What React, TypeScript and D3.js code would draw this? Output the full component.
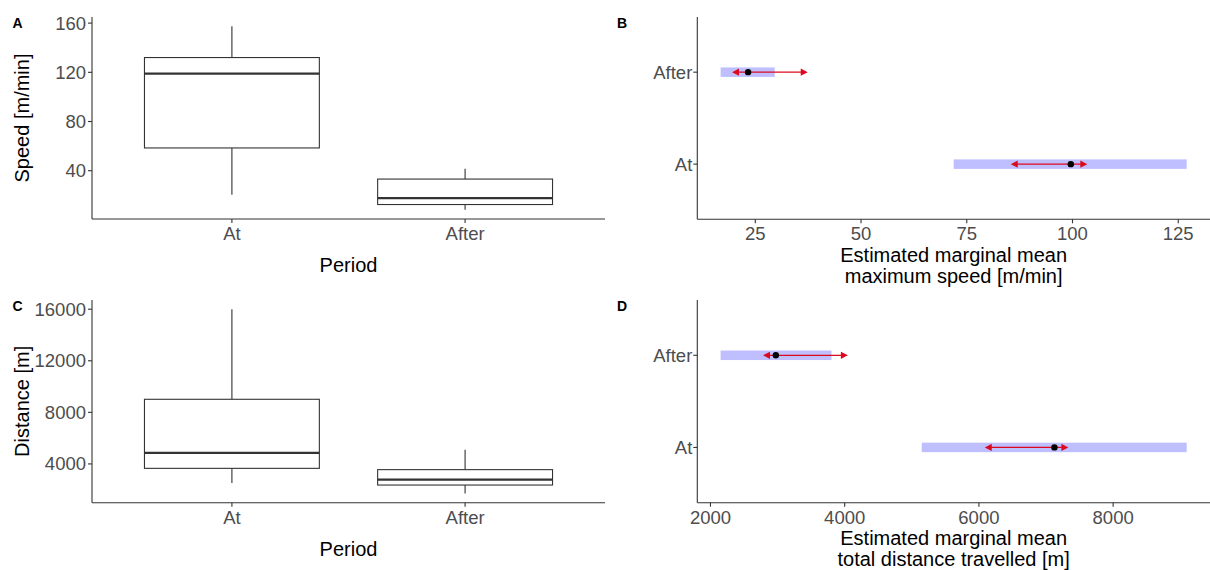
import React from "react";
import * as d3 from "d3";

// ---------- data ----------
const periods = ["At", "After"];

// Panel A: speed [m/min] box plots (At, After)
const speedMin = [20.4, 8.2];
const speedQ1 = [58.5, 12.5];
const speedMedian = [119, 17.7];
const speedQ3 = [132, 33.2];
const speedMax = [157.5, 41.6];
const speedTicks = [40, 80, 120, 160];

// Panel C: distance [m] box plots (At, After)
const distMin = [2518, 1707];
const distQ1 = [3657, 2362];
const distMedian = [4858, 2776];
const distQ3 = [9013, 3556];
const distMax = [16000, 5092];
const distTicks = [4000, 8000, 12000, 16000];

// Panel B: estimated marginal mean maximum speed (At, After)
const speedEmm = [99.6, 23.3];
const speedCiLow = [71.9, 16.8];
const speedCiHigh = [127.0, 29.6];
const speedArrowLow = [85.4, 19.5];
const speedArrowHigh = [103.5, 37.4];
const speedEmmTicks = [25, 50, 75, 100, 125];

// Panel D: estimated marginal mean total distance (At, After)
const distEmm = [7125, 2974];
const distCiLow = [5148, 2151];
const distCiHigh = [9096, 3803];
const distArrowLow = [6087, 2783];
const distArrowHigh = [7333, 4047];
const distEmmTicks = [2000, 4000, 6000, 8000];

// ---------- style ----------
const FONT = "'Liberation Sans', Arial, Helvetica, sans-serif";
const AXIS = "#333333";
const TICKTXT = "#4D4D4D";
const RED = "#DC0A1E";
const TICK_FS = 18.5;
const TITLE_FS = 20;

function expand(lo: number, hi: number): [number, number] {
  const r = hi - lo;
  return [lo - 0.05 * r, hi + 0.05 * r];
}

function discretePos(n: number, a: number, b: number) {
  // ggplot discrete expansion of 0.6 units each side
  const unit = (b - a) / (n - 1 + 1.2);
  return (i: number) => a + (0.6 + i) * unit;
}

type Box = { min: number[]; q1: number[]; med: number[]; q3: number[]; max: number[] };

function BoxPanel(props: {
  left: number; right: number; top: number; bottom: number;
  box: Box; ticks: number[]; yTitle: string; label: string;
}) {
  const { left, right, top, bottom, box, ticks, yTitle, label } = props;
  const lo = d3.min(box.min) as number;
  const hi = d3.max(box.max) as number;
  const y = d3.scaleLinear().domain(expand(lo, hi)).range([bottom, top]);
  const xPos = discretePos(periods.length, left, right);
  const unit = (right - left) / 2.2;
  const bw = unit * 0.75;
  return (
    <g>
      <text x={12.5} y={top + 11} fontFamily={FONT} fontWeight="bold" fontSize={14} fill="#000">{label}</text>
      {periods.map((p, i) => {
        const cx = xPos(i);
        return (
          <g key={p}>
            <line x1={cx} x2={cx} y1={y(box.max[i])} y2={y(box.q3[i])} stroke={AXIS} strokeWidth={1.1} />
            <line x1={cx} x2={cx} y1={y(box.q1[i])} y2={y(box.min[i])} stroke={AXIS} strokeWidth={1.1} />
            <rect x={cx - bw / 2} y={y(box.q3[i])} width={bw} height={y(box.q1[i]) - y(box.q3[i])}
              fill="#fff" stroke={AXIS} strokeWidth={1.1} />
            <line x1={cx - bw / 2} x2={cx + bw / 2} y1={y(box.med[i])} y2={y(box.med[i])} stroke={AXIS} strokeWidth={2.3} />
          </g>
        );
      })}
      {/* axes */}
      <line x1={left} x2={left} y1={top} y2={bottom} stroke={AXIS} strokeWidth={1.1} />
      <line x1={left} x2={right} y1={bottom} y2={bottom} stroke={AXIS} strokeWidth={1.1} />
      {ticks.map((t) => (
        <g key={t}>
          <line x1={left - 4} x2={left} y1={y(t)} y2={y(t)} stroke={AXIS} strokeWidth={1.1} />
          <text x={left - 6} y={y(t)} dy="0.35em" textAnchor="end" fontFamily={FONT} fontSize={TICK_FS} fill={TICKTXT}>{t}</text>
        </g>
      ))}
      {periods.map((p, i) => (
        <g key={p}>
          <line x1={xPos(i)} x2={xPos(i)} y1={bottom} y2={bottom + 4} stroke={AXIS} strokeWidth={1.1} />
          <text x={xPos(i)} y={bottom + 21} textAnchor="middle" fontFamily={FONT} fontSize={TICK_FS} fill={TICKTXT}>{p}</text>
        </g>
      ))}
      <text x={(left + right) / 2} y={bottom + 53} textAnchor="middle" fontFamily={FONT} fontSize={TITLE_FS} fill="#000">Period</text>
      <text transform={`translate(21.7,${(top + bottom) / 2}) rotate(-90)`} dy="0.35em" textAnchor="middle"
        fontFamily={FONT} fontSize={TITLE_FS} fill="#000">{yTitle}</text>
    </g>
  );
}

type Emm = { emm: number[]; ciLo: number[]; ciHi: number[]; arLo: number[]; arHi: number[] };

function EmmPanel(props: {
  left: number; right: number; top: number; bottom: number;
  d: Emm; ticks: number[]; title: string[]; label: string;
}) {
  const { left, right, top, bottom, d, ticks, title, label } = props;
  const lo = Math.min(d3.min(d.ciLo) as number, d3.min(d.arLo) as number);
  const hi = Math.max(d3.max(d.ciHi) as number, d3.max(d.arHi) as number);
  const x = d3.scaleLinear().domain(expand(lo, hi)).range([left, right]);
  const yPos = discretePos(periods.length, bottom, top); // At at bottom
  const barH = 9.5;
  const ah = 7; // arrow head length
  const aw = 3.6; // half width
  return (
    <g>
      <text x={617} y={top + 11} fontFamily={FONT} fontWeight="bold" fontSize={14} fill="#000">{label}</text>
      {periods.map((p, i) => {
        const cy = yPos(i);
        const xl = x(d.arLo[i]);
        const xr = x(d.arHi[i]);
        return (
          <g key={p}>
            <rect x={x(d.ciLo[i])} y={cy - barH / 2} width={x(d.ciHi[i]) - x(d.ciLo[i])} height={barH} fill="#BFBFFF" />
            <line x1={xl + 3} x2={xr - 3} y1={cy} y2={cy} stroke={RED} strokeWidth={1.2} />
            <path d={`M${xl},${cy} L${xl + ah},${cy - aw} L${xl + ah},${cy + aw} Z`} fill={RED} />
            <path d={`M${xr},${cy} L${xr - ah},${cy - aw} L${xr - ah},${cy + aw} Z`} fill={RED} />
            <circle cx={x(d.emm[i])} cy={cy} r={3.2} fill="#000" />
          </g>
        );
      })}
      <line x1={left} x2={left} y1={top} y2={bottom} stroke={AXIS} strokeWidth={1.1} />
      <line x1={left} x2={right} y1={bottom} y2={bottom} stroke={AXIS} strokeWidth={1.1} />
      {ticks.map((t) => (
        <g key={t}>
          <line x1={x(t)} x2={x(t)} y1={bottom} y2={bottom + 4} stroke={AXIS} strokeWidth={1.1} />
          <text x={x(t)} y={bottom + 21} textAnchor="middle" fontFamily={FONT} fontSize={TICK_FS} fill={TICKTXT}>{t}</text>
        </g>
      ))}
      {periods.map((p, i) => (
        <g key={p}>
          <line x1={left - 4} x2={left} y1={yPos(i)} y2={yPos(i)} stroke={AXIS} strokeWidth={1.1} />
          <text x={left - 5} y={yPos(i)} dy="0.35em" textAnchor="end" fontFamily={FONT} fontSize={TICK_FS} fill={TICKTXT}>{p}</text>
        </g>
      ))}
      {title.map((t, k) => (
        <text key={k} x={(left + right) / 2} y={bottom + 42.7 + k * 21} textAnchor="middle" fontFamily={FONT}
          fontSize={TITLE_FS} fill="#000">{t}</text>
      ))}
    </g>
  );
}

export default function App() {
  return (
    <svg width={1210} height={570} style={{ position: "absolute", left: 0, top: 0, background: "#fff" }}>
      <rect width={1210} height={570} fill="#fff" />
      <BoxPanel left={92} right={605} top={17} bottom={219} label="A" yTitle="Speed [m/min]" ticks={speedTicks}
        box={{ min: speedMin, q1: speedQ1, med: speedMedian, q3: speedQ3, max: speedMax }} />
      <BoxPanel left={92} right={605} top={300} bottom={502.7} label="C" yTitle="Distance [m]" ticks={distTicks}
        box={{ min: distMin, q1: distQ1, med: distMedian, q3: distQ3, max: distMax }} />
      <EmmPanel left={697.3} right={1210} top={17} bottom={219.3} label="B" ticks={speedEmmTicks}
        title={["Estimated marginal mean", "maximum speed [m/min]"]}
        d={{ emm: speedEmm, ciLo: speedCiLow, ciHi: speedCiHigh, arLo: speedArrowLow, arHi: speedArrowHigh }} />
      <EmmPanel left={697.3} right={1210} top={300} bottom={502.7} label="D" ticks={distEmmTicks}
        title={["Estimated marginal mean", "total distance travelled [m]"]}
        d={{ emm: distEmm, ciLo: distCiLow, ciHi: distCiHigh, arLo: distArrowLow, arHi: distArrowHigh }} />
    </svg>
  );
}
